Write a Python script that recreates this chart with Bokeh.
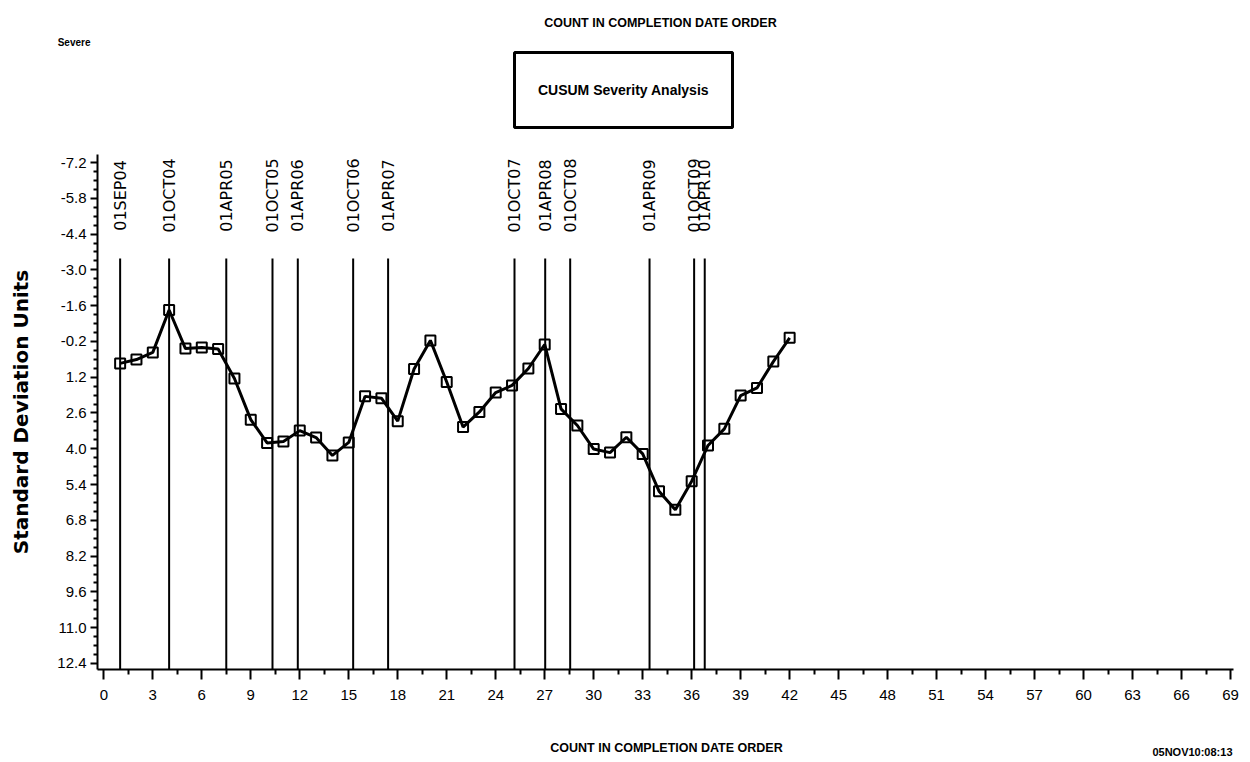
from bokeh.plotting import figure
from bokeh.layouts import column
from bokeh.models import Range1d, FixedTicker, NumeralTickFormatter, ColumnDataSource
from bokeh.core.properties import value
from bokeh.embed import file_html
from bokeh.resources import INLINE

# ---- data ----
count = list(range(1, 43))
cusum = [0.66, 0.51, 0.23, -1.43, 0.08, 0.04, 0.10, 1.25, 2.86, 3.77,
         3.72, 3.29, 3.56, 4.26, 3.75, 1.95, 2.02, 2.92, 0.88, -0.24,
         1.39, 3.15, 2.56, 1.80, 1.52, 0.86, -0.08, 2.44, 3.09, 4.01,
         4.15, 3.55, 4.20, 5.66, 6.39, 5.27, 3.87, 3.22, 1.92, 1.62,
         0.59, -0.34]
ref_labels = ["01SEP04", "01OCT04", "01APR05", "01OCT05", "01APR06", "01OCT06",
              "01APR07", "01OCT07", "01APR08", "01OCT08", "01APR09", "01OCT09",
              "01APR10"]
ref_pos = [1, 4, 7.5, 10.33, 11.88, 15.27, 17.41, 25.15, 27.03, 28.56, 33.42,
           36.15, 36.8]
x_ticks = list(range(0, 70, 3))
y_ticks = [-7.2, -5.8, -4.4, -3.0, -1.6, -0.2, 1.2, 2.6, 4.0, 5.4, 6.8, 8.2,
           9.6, 11.0, 12.4]

top_title = "COUNT IN COMPLETION DATE ORDER"
box_title = "CUSUM Severity Analysis"
corner_text = "Severe"
x_title = "COUNT IN COMPLETION DATE ORDER"
stamp = "05NOV10:08:13"

# ---- layout constants ----
W = 1250
BORDER_L, BORDER_R = 97, 17
X_START, X_END = -0.386, 69.18
Y_BOTTOM, Y_TOP = 12.636, -7.513
REF_TOP = -3.44
REF_LABEL_Y = -5.91
SANS = "Liberation Sans"


def blank(height, left_axis=False):
    # frames of a column are aligned, so use page pixel coordinates of the frame
    f = figure(width=W, height=height, x_range=Range1d(BORDER_L, W - BORDER_R),
               y_range=Range1d(height, 0), x_axis_location=None,
               y_axis_location="left" if left_axis else None,
               title_location=None,
               min_border_left=BORDER_L, min_border_right=BORDER_R,
               min_border_top=0, min_border_bottom=0,
               output_backend="svg", toolbar_location=None)
    f.xgrid.visible = False
    f.ygrid.visible = False
    f.outline_line_color = None
    return f


# ---- header ----
head = blank(154, left_axis=True)
corner_y = 41.5
head.yaxis.ticker = FixedTicker(ticks=[corner_y], minor_ticks=[])
head.yaxis.major_label_overrides = {corner_y: corner_text}
head.yaxis.axis_line_color = None
head.yaxis.major_tick_line_color = None
head.yaxis.minor_tick_line_color = None
head.yaxis.major_label_standoff = 1
head.yaxis.major_label_text_font = SANS
head.yaxis.major_label_text_font_style = "bold"
head.yaxis.major_label_text_font_size = "10px"
head.yaxis.major_label_text_color = "black"

head.text(x=[660], y=[22.5], text=[top_title], text_align="center",
          text_baseline="middle", text_font=value(SANS),
          text_font_style="bold", text_font_size="12.5px", text_color="black")
head.quad(left=[514], right=[732], top=[52], bottom=[127], fill_color=None,
          line_color="black", line_width=3)
head.text(x=[623], y=[89.5], text=[box_title], text_align="center",
          text_baseline="middle", text_font=value(SANS),
          text_font_style="bold", text_font_size="14px", text_color="black")

# ---- main plot ----
p = figure(width=W, height=558,
           x_range=Range1d(X_START, X_END),
           y_range=Range1d(Y_BOTTOM, Y_TOP),
           title_location=None,
           output_backend="svg", toolbar_location=None,
           min_border_left=BORDER_L, min_border_right=BORDER_R,
           min_border_top=0, min_border_bottom=43)
p.xgrid.visible = False
p.ygrid.visible = False
p.outline_line_color = None

x_minor = [t + 1.5 for t in x_ticks[:-1]]
p.xaxis.ticker = FixedTicker(ticks=x_ticks, minor_ticks=x_minor)
p.xaxis.axis_line_width = 2
p.xaxis.axis_line_color = "black"
p.xaxis.major_tick_line_width = 2
p.xaxis.minor_tick_line_width = 2
p.xaxis.major_tick_out = 10
p.xaxis.major_tick_in = 0
p.xaxis.minor_tick_out = 5
p.xaxis.minor_tick_in = 0
p.xaxis.major_label_standoff = 10
p.xaxis.major_label_text_font = SANS
p.xaxis.major_label_text_font_size = "15px"
p.xaxis.major_label_text_color = "black"

y_minor = []
for a, b in zip(y_ticks[:-1], y_ticks[1:]):
    step = (b - a) / 4
    y_minor += [a + step, a + 2 * step, a + 3 * step]
p.yaxis.ticker = FixedTicker(ticks=y_ticks, minor_ticks=y_minor)
p.yaxis.formatter = NumeralTickFormatter(format="0.0")
p.yaxis.axis_line_width = 2
p.yaxis.axis_line_color = "black"
p.yaxis.major_tick_line_width = 2
p.yaxis.minor_tick_line_width = 2
p.yaxis.major_tick_out = 7
p.yaxis.major_tick_in = 0
p.yaxis.minor_tick_out = 4
p.yaxis.minor_tick_in = 0
p.yaxis.major_label_standoff = 4
p.yaxis.major_label_text_font = SANS
p.yaxis.major_label_text_font_size = "15px"
p.yaxis.major_label_text_color = "black"
p.yaxis.axis_label = "Standard Deviation Units"
p.yaxis.axis_label_text_font = "DejaVu Sans"
p.yaxis.axis_label_text_font_style = "bold"
p.yaxis.axis_label_text_font_size = "20px"
p.yaxis.axis_label_text_color = "black"
p.yaxis.axis_label_standoff = 21

n = len(ref_pos)
ref_src = ColumnDataSource(dict(x=ref_pos, top=[REF_TOP] * n, bottom=[Y_BOTTOM] * n,
                                ly=[REF_LABEL_Y] * n, label=ref_labels))
p.segment(x0="x", y0="top", x1="x", y1="bottom", source=ref_src,
          line_color="black", line_width=2)
p.text(x="x", y="ly", text="label", source=ref_src, angle=1.5708,
       text_align="center", text_baseline="middle",
       text_font=value("DejaVu Sans"), text_font_size="16px", text_color="black")

src = ColumnDataSource(dict(x=count, y=cusum))
p.line("x", "y", source=src, line_color="black", line_width=3)
p.scatter("x", "y", source=src, marker="square", size=10,
          line_color="black", line_width=2, fill_alpha=0)

# ---- footer ----
foot = blank(50)
foot.text(x=[666], y=[35], text=[x_title], text_align="center",
          text_baseline="middle", text_font=value(SANS),
          text_font_style="bold", text_font_size="12.5px", text_color="black")
foot.text(x=[1232], y=[39], text=[stamp], text_align="right",
          text_baseline="middle", text_font=value(SANS),
          text_font_style="bold", text_font_size="11px", text_color="black")

layout = column(head, p, foot, spacing=0)
open("out.html", "w").write(file_html(layout, INLINE))
